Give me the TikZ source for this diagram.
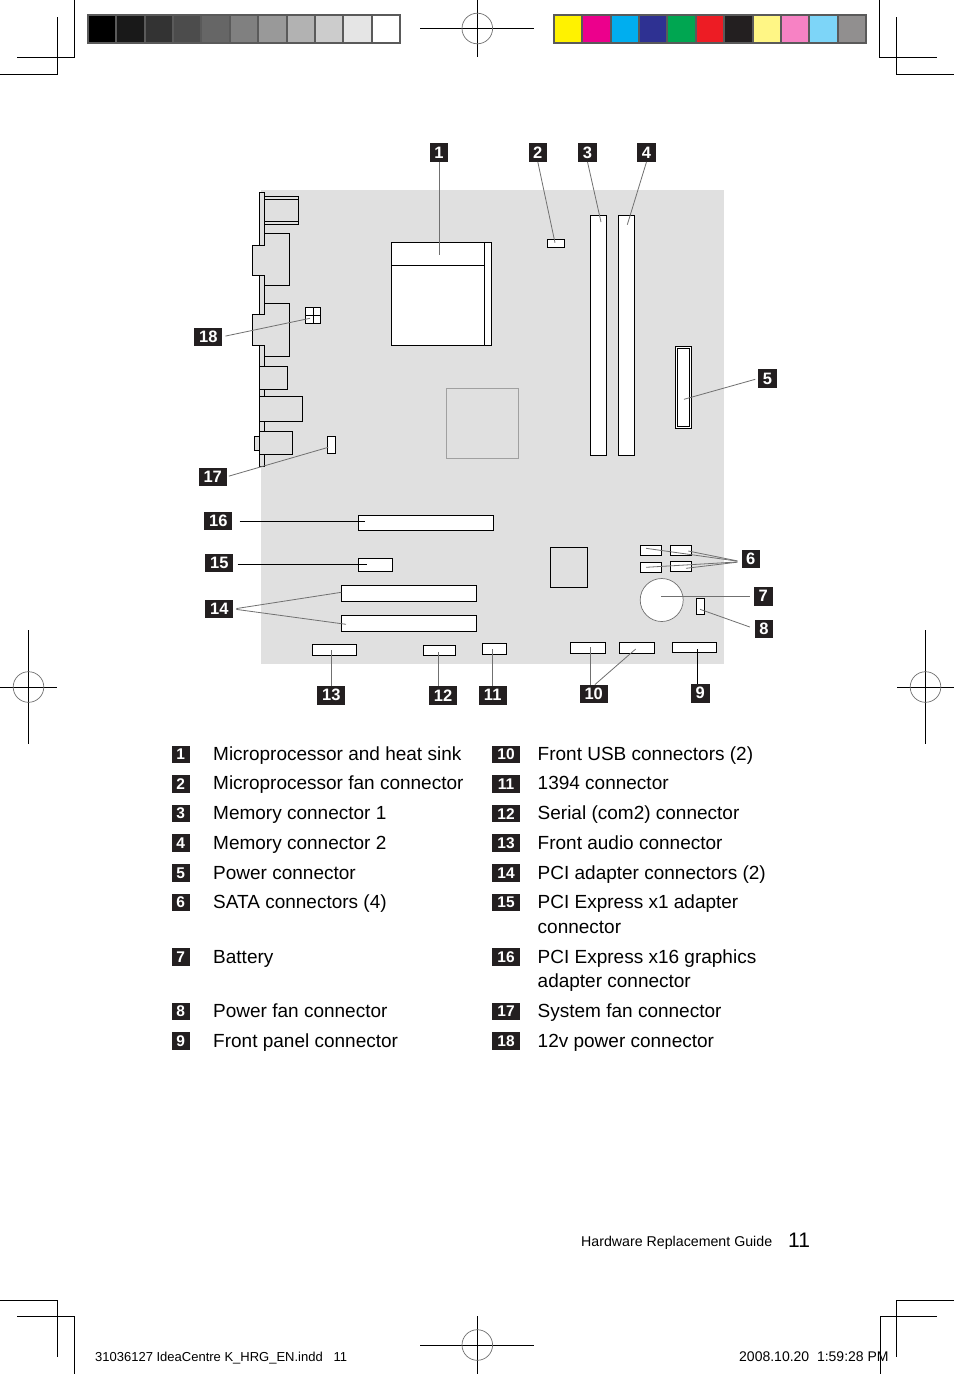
\documentclass[tikz,border=0pt]{standalone}
\usepackage{fontspec}
\usepackage{xcolor}
\usetikzlibrary{fit}
\setmainfont{Liberation Sans}
\definecolor{boardgray}{HTML}{E0E0E0}
\definecolor{tagblack}{HTML}{231F20}
\definecolor{leadgray}{HTML}{707070}
\definecolor{chipgray}{HTML}{A0A0A0}
\definecolor{barframe}{HTML}{5A5A5A}

\begin{document}
\begin{tikzpicture}[x=1pt,y=-1pt]

\tikzset{
part/.style={draw=black,fill=white,line width=1pt,inner sep=0pt,outer sep=0pt},
iopart/.style={part,fill=boardgray},
tag/.style={fill=tagblack,text=white,font=\fontsize{16.5}{16}\selectfont\bfseries,minimum width=18.4pt,minimum height=18.4pt,inner sep=0pt},
tagw/.style={tag,minimum width=28pt},
ltag/.style={tag,minimum width=17.7pt,minimum height=17.7pt,font=\fontsize{15.5}{15}\selectfont\bfseries},
ltagw/.style={ltag,minimum width=28pt},
ltext/.style={anchor=base west,inner sep=0pt,font=\fontsize{19}{24}\selectfont},
lead/.style={draw=leadgray,line width=0.8pt},
leadk/.style={draw=black,line width=0.9pt},
crop/.style={draw=black,line width=0.9pt},
slug/.style={anchor=base west,inner sep=0pt,font=\fontsize{13}{13}\selectfont}
}

\useasboundingbox (0,0) rectangle (954,1374);
\fill[white] (0,0) rectangle (954,1374);

% crop marks
\draw[crop] (74.5,0) -- (74.5,57.5) -- (17,57.5);
\draw[crop] (57.5,17) -- (57.5,74.5) -- (0,74.5);
\draw[crop] (879.7,0) -- (879.7,57.5) -- (937,57.5);
\draw[crop] (896.3,17) -- (896.3,74.5) -- (954,74.5);
\draw[crop] (0,1300) -- (57.5,1300) -- (57.5,1357);
\draw[crop] (17,1316.5) -- (74.5,1316.5) -- (74.5,1374);
\draw[crop] (954,1300) -- (896.5,1300) -- (896.5,1357);
\draw[crop] (937,1316.5) -- (880,1316.5) -- (880,1374);

% register marks
\draw[crop] (420,28.5) -- (534,28.5) (477.3,0) -- (477.3,57);
\draw[draw=leadgray,line width=0.7pt] (477.3,28.5) circle (15.3);
\draw[crop] (420,1345) -- (534,1345) (477.3,1316) -- (477.3,1374);
\draw[draw=leadgray,line width=0.7pt] (477.3,1345) circle (15.3);
\draw[crop] (0,687) -- (57,687) (28.5,630) -- (28.5,744);
\draw[draw=leadgray,line width=0.7pt] (28.5,687) circle (15.3);
\draw[crop] (897,687) -- (954,687) (925.5,630) -- (925.5,744);
\draw[draw=leadgray,line width=0.7pt] (925.5,687) circle (15.3);

% gray bar
\fill[barframe] (87,14) rectangle (401,44);
\fill[black] (89,16) rectangle (115,42);
\fill[black!90] (117,16) rectangle (144,42);
\fill[black!80] (146,16) rectangle (172,42);
\fill[black!70] (174,16) rectangle (200,42);
\fill[black!60] (202,16) rectangle (229,42);
\fill[black!50] (231,16) rectangle (257,42);
\fill[black!40] (259,16) rectangle (286,42);
\fill[black!30] (288,16) rectangle (314,42);
\fill[black!20] (316,16) rectangle (342,42);
\fill[black!10] (344,16) rectangle (371,42);
\fill[white] (373,16) rectangle (399,42);

% colour bar
\fill[barframe] (553,14) rectangle (867,44);
\fill[fill={rgb,255:red,255;green,242;blue,0}] (555,16) rectangle (581,42);
\fill[fill={rgb,255:red,236;green,0;blue,140}] (583,16) rectangle (610,42);
\fill[fill={rgb,255:red,0;green,174;blue,239}] (612,16) rectangle (638,42);
\fill[fill={rgb,255:red,46;green,49;blue,146}] (640,16) rectangle (666,42);
\fill[fill={rgb,255:red,0;green,166;blue,81}] (668,16) rectangle (695,42);
\fill[fill={rgb,255:red,237;green,28;blue,36}] (697,16) rectangle (723,42);
\fill[tagblack] (725,16) rectangle (752,42);
\fill[fill={rgb,255:red,255;green,246;blue,133}] (754,16) rectangle (780,42);
\fill[fill={rgb,255:red,247;green,130;blue,196}] (782,16) rectangle (808,42);
\fill[fill={rgb,255:red,125;green,213;blue,248}] (810,16) rectangle (837,42);
\fill[fill={rgb,255:red,145;green,143;blue,143}] (839,16) rectangle (865,42);

% board
\fill[boardgray] (261,190) rectangle (723.5,663.5);

% back panel
\node[iopart,fit={(259.5,192) (264.5,466.7)}] (plate) {};
\node[iopart,fit={(264.5,196) (298.5,224.5)}] (usbtop) {};
\draw[part] (usbtop.west |- 0,199.5) -- (usbtop.east |- 0,199.5);
\draw[part] (usbtop.west |- 0,221) -- (usbtop.east |- 0,221);
\node[iopart,fit={(264.5,233.3) (289.5,285.5)}] (portb) {};
\node[iopart,fit={(252.4,245) (264.5,275.5)}] (portbnose) {};
\node[iopart,fit={(264.5,303.3) (289.5,356.5)}] (portc) {};
\node[iopart,fit={(252.4,314.5) (264.5,345.5)}] (portcnose) {};
\fill[boardgray] (263.9,245.6) rectangle (265.1,274.9);
\fill[boardgray] (263.9,315.1) rectangle (265.1,344.9);
\node[iopart,fit={(259.5,366.5) (287.5,389.5)}] (portd) {};
\node[iopart,fit={(259.5,396.5) (302.5,421.5)}] (porte) {};
\node[iopart,fit={(254.3,436) (259.5,450.5)}] (portfnose) {};
\node[iopart,fit={(259.5,431.3) (292.5,454.5)}] (portf) {};

% board parts
\node[part,fit={(305.5,307.5) (320.5,323.5)}] (pwrtw) {};
\draw[part] (pwrtw.north) -- (pwrtw.south);
\draw[part] (pwrtw.west) -- (pwrtw.east);
\node[part,fit={(327.3,436.3) (335.5,453)}] (sysfan) {};
\node[part,fit={(391.3,242.3) (491.5,345.3)}] (cpu) {};
\draw[part] (391.3,265.5) -- (484.5,265.5);
\draw[part] (484.5,242.3) -- (484.5,345.3);
\node[iopart,draw=chipgray,fit={(446,388.3) (518.3,458.5)}] (northchip) {};
\node[part,fit={(547.3,239.3) (564.7,247.7)}] (cpufan) {};
\node[part,fit={(590.3,215.3) (606.7,455.5)}] (memone) {};
\node[part,fit={(618.3,215.3) (634.7,455.5)}] (memtwo) {};
\node[part,fit={(675.3,346.5) (691.7,428.5)}] (power) {};
\draw[part] (677.3,348) rectangle (689.7,426);
\node[part,fit={(358.3,515.3) (493.7,530.3)}] (pcixvi) {};
\node[part,fit={(358.3,558.3) (392.3,571.3)}] (pcixi) {};
\node[part,fit={(341.3,585.3) (476.7,601.3)}] (pcia) {};
\node[part,fit={(341.3,615.3) (476.7,631.3)}] (pcib) {};
\node[part,fit={(312.3,644.3) (356.3,655.3)}] (audio) {};
\node[part,fit={(423.3,645.3) (455.7,655.3)}] (serial) {};
\node[part,fit={(482.3,643.3) (506.7,654.3)}] (fw) {};
\node[part,fit={(570.3,642.3) (605.7,653.7)}] (usba) {};
\node[part,fit={(619.3,642.3) (654.7,653.7)}] (usbb) {};
\node[part,fit={(672.3,642.3) (716.7,652.7)}] (panel) {};
\node[part,fit={(696.3,598.3) (704.7,614.3)}] (pwrfan) {};
\node[iopart,fit={(550.3,547.3) (587.7,587.3)}] (southchip) {};
\node[part,fit={(640.3,545.7) (661.7,555.7)}] (sataa) {};
\node[part,fit={(670.3,545.7) (691.7,555.7)}] (satab) {};
\node[part,fit={(640.3,562.3) (661.7,572.3)}] (satac) {};
\node[part,fit={(670.3,561.3) (691.7,571.3)}] (satad) {};
\node[part,draw=leadgray,line width=0.7pt,circle,minimum size=43pt] (battery) at (661.7,600) {};

% tags on the board
\node[tag] (t1) at (439,152.5) {1};
\node[tag] (t2) at (537.8,152.5) {2};
\node[tag] (t3) at (587.5,152.5) {3};
\node[tag] (t4) at (646.5,152.5) {4};
\node[tag] (t5) at (767.5,378.5) {5};
\node[tag] (t6) at (750.7,559) {6};
\node[tag] (t7) at (763.3,596.3) {7};
\node[tag] (t8) at (764,628.7) {8};
\node[tag] (t9) at (700.3,693.3) {9};
\node[tagw] (t10) at (593.7,694) {10};
\node[tagw] (t11) at (492.7,695.3) {11};
\node[tagw] (t12) at (443,695.3) {12};
\node[tagw] (t13) at (331.3,695.3) {13};
\node[tagw] (t14) at (219.3,609) {14};
\node[tagw] (t15) at (219.3,562.7) {15};
\node[tagw] (t16) at (218.3,520.7) {16};
\node[tagw] (t17) at (212.7,476.7) {17};
\node[tagw] (t18) at (208.3,336.7) {18};

% leader ends
\coordinate (e1) at (439,255);
\coordinate (e2) at (555,242.7);
\coordinate (e3) at (601,222);
\coordinate (e4) at (627.3,224.7);
\coordinate (e5) at (684,399.3);
\coordinate (e6a) at (646,548.3);
\coordinate (e6b) at (688.3,551);
\coordinate (e6c) at (646,567.3);
\coordinate (e6d) at (686,568.3);
\coordinate (e7) at (661.3,596.3);
\coordinate (e8) at (700,609.3);
\coordinate (e9) at (697.3,649.3);
\coordinate (e10a) at (590.3,647);
\coordinate (e10b) at (635.7,649);
\coordinate (e11) at (492.7,649.3);
\coordinate (e12) at (438.7,652);
\coordinate (e13) at (331.3,650.3);
\coordinate (e14a) at (341.3,592.3);
\coordinate (e14b) at (346,624.3);
\coordinate (e15) at (366.7,564.3);
\coordinate (e16) at (365,521.3);
\coordinate (e17) at (328.3,447.3);
\coordinate (e18) at (310,318.3);

\draw[lead] (t1) -- (e1);
\draw[lead] (t2.south) -- (e2);
\draw[lead] (t3.south) -- (e3);
\draw[lead] (t4.south) -- (e4);
\draw[lead,shorten <=3pt] (t5.west) -- (e5);
\draw[lead,shorten <=4pt] ([yshift=-2.7pt]t6.west) -- (e6a);
\draw[lead,shorten <=4pt] ([yshift=-2.7pt]t6.west) -- (e6b);
\draw[lead,shorten <=4pt] ([yshift=-2.7pt]t6.west) -- (e6c);
\draw[lead,shorten <=4pt] ([yshift=-2.7pt]t6.west) -- (e6d);
\draw[lead,shorten <=4pt] (t7.west) -- (e7);
\draw[lead,shorten <=5pt] (t8.west) -- (e8);
\draw[leadk] (t9.north -| e9) -- (e9);
\draw[lead] (t10.north -| e10a) -- (e10a);
\draw[lead] ([xshift=-13pt]t10.north east) -- (e10b);
\draw[lead] (t11) -- (e11);
\draw[lead] (t12.north -| e12) -- (e12);
\draw[lead] (t13) -- (e13);
\draw[lead,shorten <=3pt] (t14.east) -- (e14a);
\draw[lead,shorten <=3pt] (t14.east) -- (e14b);
\draw[leadk,shorten <=4pt] (t15.east |- e15) -- (e15);
\draw[leadk,shorten <=7pt] (t16.east |- e16) -- (e16);
\draw[lead,shorten <=2pt] (t17.east) -- (e17);
\draw[lead,shorten <=3pt] (t18.east) -- (e18);

% legend, left column
\node[ltag] (l1) at (180.8,754.6) {1};
\node[ltag] (l2) at (180.8,784) {2};
\node[ltag] (l3) at (180.8,813.6) {3};
\node[ltag] (l4) at (180.8,843.3) {4};
\node[ltag] (l5) at (180.8,873) {5};
\node[ltag] (l6) at (180.8,902.6) {6};
\node[ltag] (l7) at (180.8,957) {7};
\node[ltag] (l8) at (180.8,1011.5) {8};
\node[ltag] (l9) at (180.8,1041) {9};
\node[ltext] (n1) at (213,760) {Microprocessor and heat sink};
\node[ltext] (n2) at (213,789.5) {Microprocessor fan connector};
\node[ltext] (n3) at (213,819) {Memory connector 1};
\node[ltext] (n4) at (213,849) {Memory connector 2};
\node[ltext] (n5) at (213,879) {Power connector};
\node[ltext] (n6) at (213,908) {SATA connectors (4)};
\node[ltext] (n7) at (213,963) {Battery};
\node[ltext] (n8) at (213,1017) {Power fan connector};
\node[ltext] (n9) at (213,1047) {Front panel connector};

% legend, right column
\node[ltagw] (l10) at (506,754.6) {10};
\node[ltagw] (l11) at (506,784) {11};
\node[ltagw] (l12) at (506,813.6) {12};
\node[ltagw] (l13) at (506,843.3) {13};
\node[ltagw] (l14) at (506,873) {14};
\node[ltagw] (l15) at (506,902.6) {15};
\node[ltagw] (l16) at (506,957) {16};
\node[ltagw] (l17) at (506,1011.5) {17};
\node[ltagw] (l18) at (506,1041) {18};
\node[ltext] (n10) at (537.5,760) {Front USB connectors (2)};
\node[ltext] (n11) at (537.5,789.5) {1394 connector};
\node[ltext] (n12) at (537.5,819) {Serial (com2) connector};
\node[ltext] (n13) at (537.5,849) {Front audio connector};
\node[ltext] (n14) at (537.5,879) {PCI adapter connectors (2)};
\node[ltext] (n15) at (537.5,908) {PCI Express x1 adapter};
\node[ltext] (n15b) at (537.5,933) {connector};
\node[ltext] (n16) at (537.5,963) {PCI Express x16 graphics};
\node[ltext] (n16b) at (537.5,987) {adapter connector};
\node[ltext] (n17) at (537.5,1017) {System fan connector};
\node[ltext] (n18) at (537.5,1047) {12v power connector};

% footer
\node[anchor=base west,inner sep=0pt,font=\fontsize{14.2}{15}\selectfont] (guide) at (581,1246) {Hardware Replacement Guide};
\node[anchor=base west,inner sep=0pt,font=\fontsize{21}{21}\selectfont] (pageno) at (788,1247) {11};
\node[slug] (slugl) at (95,1361) {31036127 IdeaCentre K\_HRG\_EN.indd \ \ 11};
\node[slug,font=\fontsize{14}{14}\selectfont] (slugr) at (739,1361) {2008.10.20 \ 1:59:28 PM};

\end{tikzpicture}
\end{document}
